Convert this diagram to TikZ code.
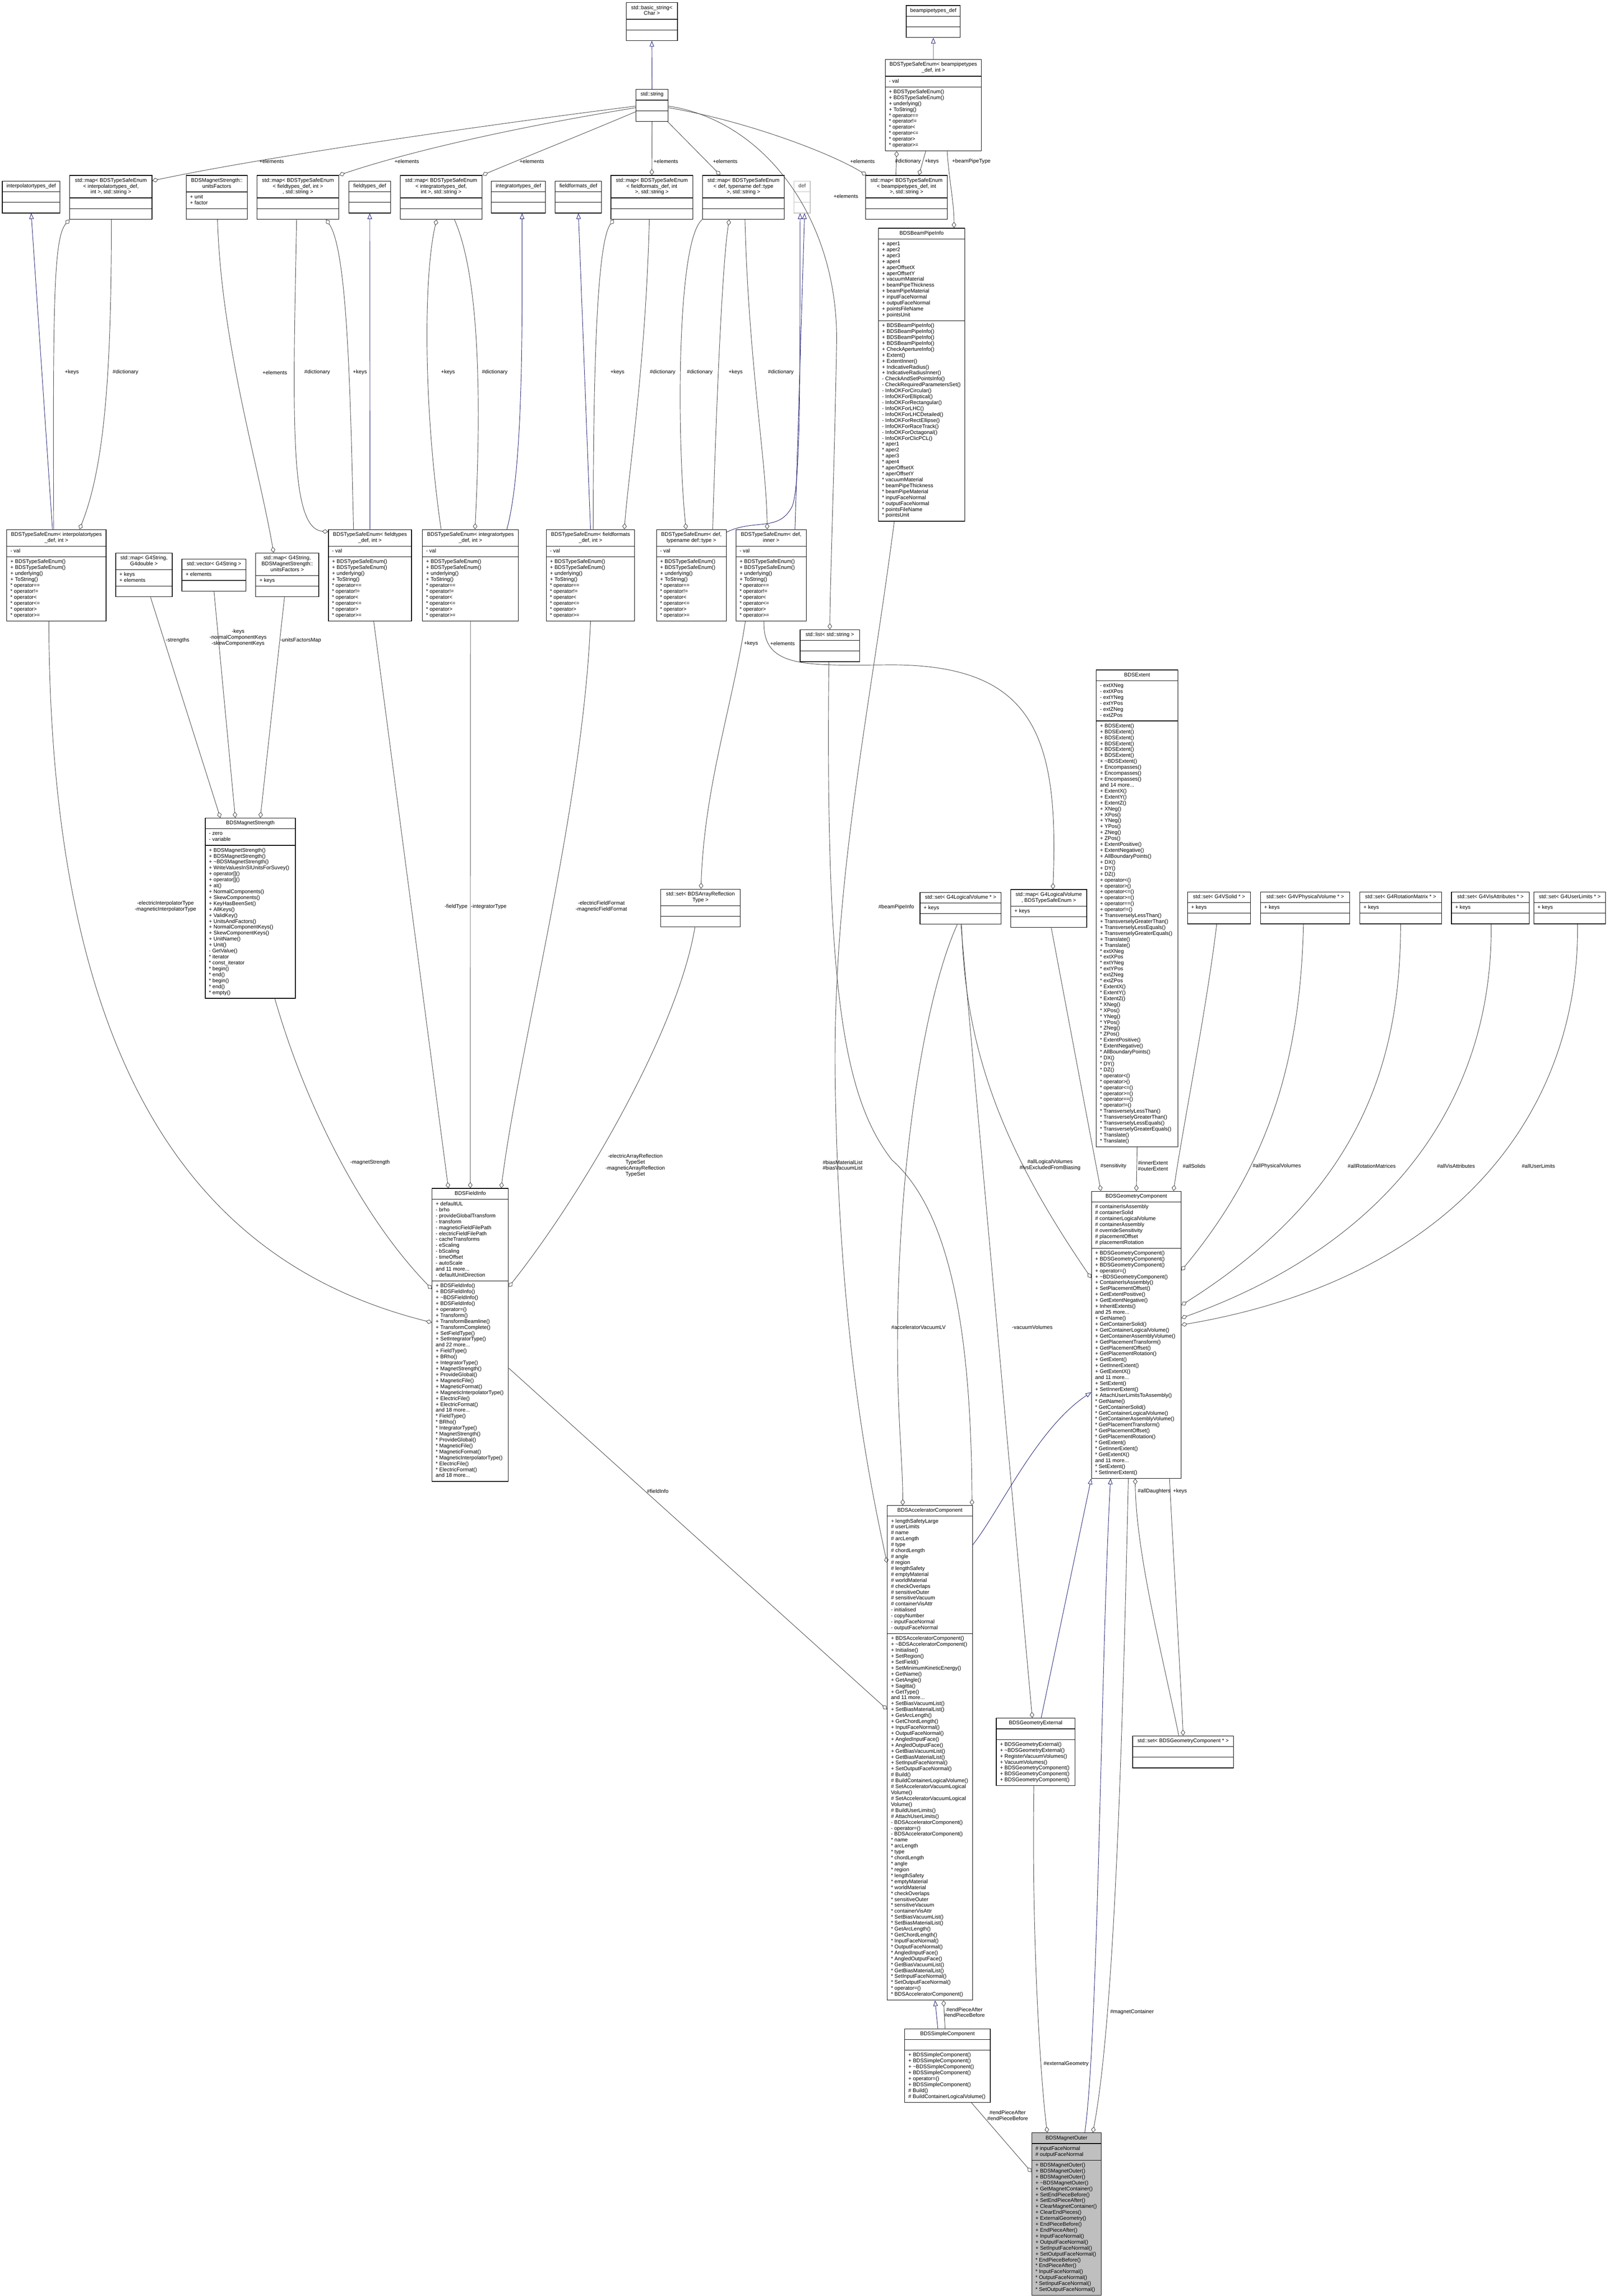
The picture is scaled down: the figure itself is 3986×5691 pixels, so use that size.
\documentclass[tikz,border=0pt]{standalone}
\usepackage{fontspec}
\setmainfont{Liberation Sans}
\usetikzlibrary{shapes.multipart,arrows.meta,calc}
\definecolor{inhcol}{HTML}{191970}
\definecolor{edgecol}{HTML}{404040}
\definecolor{leafgray}{HTML}{BFBFBF}
\newcommand\cf{\fontsize{3.73}{4.18}\selectfont}
\newcommand\cttl[1]{{\cf\begin{tabular}{@{}c@{}}#1\end{tabular}}}
\newcommand\cmbr[1]{{\cf\begin{tabular}{@{}l@{}}#1\end{tabular}}}
\newcommand\blankpart{\cmbr{\hphantom{x}}}
\newcommand\tld{\textasciitilde}
\newcommand\emptyparts{\nodepart{two}\blankpart\nodepart{three}\blankpart}
\newcommand\enumops{+ BDSTypeSafeEnum()\\+ BDSTypeSafeEnum()\\+ underlying()\\+ ToString()\\{}* operator==\\{}* operator!=\\{}* operator<\\{}* operator<=\\{}* operator>\\{}* operator>=}
\tikzset{
  cls/.style={rectangle split, rectangle split parts=3, rectangle split part align={center,left,left},
    draw=black, line width=0.4pt, fill=white, inner xsep=2.6pt, inner ysep=1.47pt,
    anchor=north west, minimum width=#1},
  inh/.style={draw=inhcol, line width=0.3pt, -{Triangle[open,length=0.14cm,width=0.11cm]}},
  agg/.style={draw=edgecol, line width=0.3pt, -{Diamond[open,length=0.15cm,width=0.11cm]}},
  lbl/.style={font=\cf, align=center, inner sep=0pt}
}
\begin{document}
\begin{tikzpicture}[x=0.01cm,y=-0.01cm]
\useasboundingbox (0,0) rectangle (3986,5691);

\node[cls=1.27cm] (bstr) at (1551,6) {\cttl{std::basic\_string<\\Char >}\emptyparts};
\node[cls=0.80cm] (str) at (1575,221) {\cttl{std::string}\emptyparts};
\node[cls=1.34cm] (bptdef) at (2245,13) {\cttl{beampipetypes\_def}\emptyparts};
\node[cls=2.38cm] (bpenum) at (2193,147) {\cttl{BDSTypeSafeEnum< beampipetypes\\\_def, int >}\nodepart{two}\cmbr{- val}\nodepart{three}\cmbr{\enumops}};

\node[cls=1.43cm] (itdef) at (5,448) {\cttl{interpolatortypes\_def}\emptyparts};
\node[cls=2.04cm] (itmap) at (172,434) {\cttl{std::map< BDSTypeSafeEnum\\< interpolatortypes\_def,\\int >, std::string >}\emptyparts};
\node[cls=1.51cm] (uf) at (461,434) {\cttl{BDSMagnetStrength::\\unitsFactors}\nodepart{two}\cmbr{+ unit\\+ factor}\nodepart{three}\blankpart};
\node[cls=2.03cm] (ftmap) at (636,434) {\cttl{std::map< BDSTypeSafeEnum\\< fieldtypes\_def, int >\\, std::string >}\emptyparts};
\node[cls=1.03cm] (ftdef) at (864,448) {\cttl{fieldtypes\_def}\emptyparts};
\node[cls=2.03cm] (igmap) at (991,434) {\cttl{std::map< BDSTypeSafeEnum\\< integratortypes\_def,\\int >, std::string >}\emptyparts};
\node[cls=1.34cm] (igdef) at (1217,448) {\cttl{integratortypes\_def}\emptyparts};
\node[cls=1.15cm] (ffdef) at (1375,448) {\cttl{fieldformats\_def}\emptyparts};
\node[cls=2.03cm] (ffmap) at (1513,434) {\cttl{std::map< BDSTypeSafeEnum\\< fieldformats\_def, int\\>, std::string >}\emptyparts};
\node[cls=2.03cm] (dtmap) at (1740,434) {\cttl{std::map< BDSTypeSafeEnum\\< def, typename def::type\\>, std::string >}\emptyparts};
\node[cls=0.40cm, draw=leafgray, text=edgecol] (defb) at (1967,448) {\cttl{def}\emptyparts};
\node[cls=2.03cm] (bpmap) at (2144,434) {\cttl{std::map< BDSTypeSafeEnum\\< beampipetypes\_def, int\\>, std::string >}\emptyparts};

\node[cls=2.14cm] (bpinfo) at (2176,565) {\cttl{BDSBeamPipeInfo}
  \nodepart{two}\cmbr{+ aper1\\+ aper2\\+ aper3\\+ aper4\\+ aperOffsetX\\+ aperOffsetY\\+ vacuumMaterial\\+ beamPipeThickness\\+ beamPipeMaterial\\+ inputFaceNormal\\+ outputFaceNormal\\+ pointsFileName\\+ pointsUnit}
  \nodepart{three}\cmbr{+ BDSBeamPipeInfo()\\+ BDSBeamPipeInfo()\\+ BDSBeamPipeInfo()\\+ BDSBeamPipeInfo()\\+ CheckApertureInfo()\\+ Extent()\\+ ExtentInner()\\+ IndicativeRadius()\\+ IndicativeRadiusInner()\\- CheckAndSetPointsInfo()\\- CheckRequiredParametersSet()\\- InfoOKForCircular()\\- InfoOKForElliptical()\\- InfoOKForRectangular()\\- InfoOKForLHC()\\- InfoOKForLHCDetailed()\\- InfoOKForRectEllipse()\\- InfoOKForRaceTrack()\\- InfoOKForOctagonal()\\- InfoOKForClicPCL()\\{}* aper1\\{}* aper2\\{}* aper3\\{}* aper4\\{}* aperOffsetX\\{}* aperOffsetY\\{}* vacuumMaterial\\{}* beamPipeThickness\\{}* beamPipeMaterial\\{}* inputFaceNormal\\{}* outputFaceNormal\\{}* pointsFileName\\{}* pointsUnit}};

\node[cls=2.46cm] (ienum) at (16,1312) {\cttl{BDSTypeSafeEnum< interpolatortypes\\\_def, int >}\nodepart{two}\cmbr{- val}\nodepart{three}\cmbr{\enumops}};
\node[cls=1.40cm] (mgd) at (286,1370) {\cttl{std::map< G4String,\\G4double >}\nodepart{two}\cmbr{+ keys\\+ elements}\nodepart{three}\blankpart};
\node[cls=1.59cm] (vg) at (450,1385) {\cttl{std::vector< G4String >}\nodepart{two}\cmbr{+ elements}\nodepart{three}\blankpart};
\node[cls=1.56cm] (mgu) at (633,1370) {\cttl{std::map< G4String,\\BDSMagnetStrength::\\unitsFactors >}\nodepart{two}\cmbr{+ keys}\nodepart{three}\blankpart};
\node[cls=2.06cm] (fenum) at (813,1312) {\cttl{BDSTypeSafeEnum< fieldtypes\\\_def, int >}\nodepart{two}\cmbr{- val}\nodepart{three}\cmbr{\enumops}};
\node[cls=2.38cm] (genum) at (1046,1312) {\cttl{BDSTypeSafeEnum< integratortypes\\\_def, int >}\nodepart{two}\cmbr{- val}\nodepart{three}\cmbr{\enumops}};
\node[cls=2.19cm] (fmenum) at (1353,1312) {\cttl{BDSTypeSafeEnum< fieldformats\\\_def, int >}\nodepart{two}\cmbr{- val}\nodepart{three}\cmbr{\enumops}};
\node[cls=1.73cm] (dtenum) at (1626,1312) {\cttl{BDSTypeSafeEnum< def,\\typename def::type >}\nodepart{two}\cmbr{- val}\nodepart{three}\cmbr{\enumops}};
\node[cls=1.74cm] (dienum) at (1823,1312) {\cttl{BDSTypeSafeEnum< def,\\inner >}\nodepart{two}\cmbr{- val}\nodepart{three}\cmbr{\enumops}};

\node[cls=1.47cm] (lst) at (1982,1560) {\cttl{std::list< std::string >}\emptyparts};

\node[cls=2.02cm] (ext) at (2716,1660) {\cttl{BDSExtent}
  \nodepart{two}\cmbr{- extXNeg\\- extXPos\\- extYNeg\\- extYPos\\- extZNeg\\- extZPos}
  \nodepart{three}\cmbr{+ BDSExtent()\\+ BDSExtent()\\+ BDSExtent()\\+ BDSExtent()\\+ BDSExtent()\\+ BDSExtent()\\+ \tld{}BDSExtent()\\+ Encompasses()\\+ Encompasses()\\+ Encompasses()\\and 14 more...\\+ ExtentX()\\+ ExtentY()\\+ ExtentZ()\\+ XNeg()\\+ XPos()\\+ YNeg()\\+ YPos()\\+ ZNeg()\\+ ZPos()\\+ ExtentPositive()\\+ ExtentNegative()\\+ AllBoundaryPoints()\\+ DX()\\+ DY()\\+ DZ()\\+ operator<()\\+ operator>()\\+ operator<=()\\+ operator>=()\\+ operator==()\\+ operator!=()\\+ TransverselyLessThan()\\+ TransverselyGreaterThan()\\+ TransverselyLessEquals()\\+ TransverselyGreaterEquals()\\+ Translate()\\+ Translate()\\{}* extXNeg\\{}* extXPos\\{}* extYNeg\\{}* extYPos\\{}* extZNeg\\{}* extZPos\\{}* ExtentX()\\{}* ExtentY()\\{}* ExtentZ()\\{}* XNeg()\\{}* XPos()\\{}* YNeg()\\{}* YPos()\\{}* ZNeg()\\{}* ZPos()\\{}* ExtentPositive()\\{}* ExtentNegative()\\{}* AllBoundaryPoints()\\{}* DX()\\{}* DY()\\{}* DZ()\\{}* operator<()\\{}* operator>()\\{}* operator<=()\\{}* operator>=()\\{}* operator==()\\{}* operator!=()\\{}* TransverselyLessThan()\\{}* TransverselyGreaterThan()\\{}* TransverselyLessEquals()\\{}* TransverselyGreaterEquals()\\{}* Translate()\\{}* Translate()}};

\node[cls=2.23cm] (ms) at (508,2027) {\cttl{BDSMagnetStrength}
  \nodepart{two}\cmbr{- zero\\- variable}
  \nodepart{three}\cmbr{+ BDSMagnetStrength()\\+ BDSMagnetStrength()\\+ \tld{}BDSMagnetStrength()\\+ WriteValuesInSIUnitsForSuvey()\\+ operator[]()\\+ operator[]()\\+ at()\\+ NormalComponents()\\+ SkewComponents()\\+ KeyHasBeenSet()\\+ AllKeys()\\+ ValidKey()\\+ UnitsAndFactors()\\+ NormalComponentKeys()\\+ SkewComponentKeys()\\+ UnitName()\\+ Unit()\\- GetValue()\\{}* iterator\\{}* const\_iterator\\{}* begin()\\{}* end()\\{}* begin()\\{}* end()\\{}* empty()}};

\node[cls=1.96cm] (arset) at (1637,2203) {\cttl{std::set< BDSArrayReflection\\Type >}\emptyparts};
\node[cls=2.01cm] (lvset) at (2279,2211) {\cttl{std::set< G4LogicalVolume * >}\nodepart{two}\cmbr{+ keys}\nodepart{three}\blankpart};
\node[cls=1.88cm] (lvmap) at (2504,2204) {\cttl{std::map< G4LogicalVolume\\*, BDSTypeSafeEnum >}\nodepart{two}\cmbr{+ keys}\nodepart{three}\blankpart};
\node[cls=1.56cm] (solset) at (2942,2210) {\cttl{std::set< G4VSolid * >}\nodepart{two}\cmbr{+ keys}\nodepart{three}\blankpart};
\node[cls=2.21cm] (pvset) at (3123,2210) {\cttl{std::set< G4VPhysicalVolume * >}\nodepart{two}\cmbr{+ keys}\nodepart{three}\blankpart};
\node[cls=2.02cm] (rmset) at (3369,2210) {\cttl{std::set< G4RotationMatrix * >}\nodepart{two}\cmbr{+ keys}\nodepart{three}\blankpart};
\node[cls=1.93cm] (vaset) at (3596,2210) {\cttl{std::set< G4VisAttributes * >}\nodepart{two}\cmbr{+ keys}\nodepart{three}\blankpart};
\node[cls=1.78cm] (ulset) at (3800,2210) {\cttl{std::set< G4UserLimits * >}\nodepart{two}\cmbr{+ keys}\nodepart{three}\blankpart};

\node[cls=1.89cm] (fi) at (1070,2945) {\cttl{BDSFieldInfo}
  \nodepart{two}\cmbr{+ defaultUL\\- brho\\- provideGlobalTransform\\- transform\\- magneticFieldFilePath\\- electricFieldFilePath\\- cacheTransforms\\- eScaling\\- bScaling\\- timeOffset\\- autoScale\\and 11 more...\\- defaultUnitDirection}
  \nodepart{three}\cmbr{+ BDSFieldInfo()\\+ BDSFieldInfo()\\+ \tld{}BDSFieldInfo()\\+ BDSFieldInfo()\\+ operator=()\\+ Transform()\\+ TransformBeamline()\\+ TransformComplete()\\+ SetFieldType()\\+ SetIntegratorType()\\and 22 more...\\+ FieldType()\\+ BRho()\\+ IntegratorType()\\+ MagnetStrength()\\+ ProvideGlobal()\\+ MagneticFile()\\+ MagneticFormat()\\+ MagneticInterpolatorType()\\+ ElectricFile()\\+ ElectricFormat()\\and 18 more...\\{}* FieldType()\\{}* BRho()\\{}* IntegratorType()\\{}* MagnetStrength()\\{}* ProvideGlobal()\\{}* MagneticFile()\\{}* MagneticFormat()\\{}* MagneticInterpolatorType()\\{}* ElectricFile()\\{}* ElectricFormat()\\and 18 more...}};

\node[cls=2.22cm] (gc) at (2704,2952) {\cttl{BDSGeometryComponent}
  \nodepart{two}\cmbr{\# containerIsAssembly\\\# containerSolid\\\# containerLogicalVolume\\\# containerAssembly\\\# overrideSensitivity\\\# placementOffset\\\# placementRotation}
  \nodepart{three}\cmbr{+ BDSGeometryComponent()\\+ BDSGeometryComponent()\\+ BDSGeometryComponent()\\+ operator=()\\+ \tld{}BDSGeometryComponent()\\+ ContainerIsAssembly()\\+ SetPlacementOffset()\\+ GetExtentPositive()\\+ GetExtentNegative()\\+ InheritExtents()\\and 25 more...\\+ GetName()\\+ GetContainerSolid()\\+ GetContainerLogicalVolume()\\+ GetContainerAssemblyVolume()\\+ GetPlacementTransform()\\+ GetPlacementOffset()\\+ GetPlacementRotation()\\+ GetExtent()\\+ GetInnerExtent()\\+ GetExtentX()\\and 11 more...\\+ SetExtent()\\+ SetInnerExtent()\\+ AttachUserLimitsToAssembly()\\{}* GetName()\\{}* GetContainerSolid()\\{}* GetContainerLogicalVolume()\\{}* GetContainerAssemblyVolume()\\{}* GetPlacementTransform()\\{}* GetPlacementOffset()\\{}* GetPlacementRotation()\\{}* GetExtent()\\{}* GetInnerExtent()\\{}* GetExtentX()\\and 11 more...\\{}* SetExtent()\\{}* SetInnerExtent()}};

\node[cls=2.11cm] (ac) at (2198,3731) {\cttl{BDSAcceleratorComponent}
  \nodepart{two}\cmbr{+ lengthSafetyLarge\\\# userLimits\\\# name\\\# arcLength\\\# type\\\# chordLength\\\# angle\\\# region\\\# lengthSafety\\\# emptyMaterial\\\# worldMaterial\\\# checkOverlaps\\\# sensitiveOuter\\\# sensitiveVacuum\\\# containerVisAttr\\- initialised\\- copyNumber\\- inputFaceNormal\\- outputFaceNormal}
  \nodepart{three}\cmbr{+ BDSAcceleratorComponent()\\+ \tld{}BDSAcceleratorComponent()\\+ Initialise()\\+ SetRegion()\\+ SetField()\\+ SetMinimumKineticEnergy()\\+ GetName()\\+ GetAngle()\\+ Sagitta()\\+ GetType()\\and 11 more...\\+ SetBiasVacuumList()\\+ SetBiasMaterialList()\\+ GetArcLength()\\+ GetChordLength()\\+ InputFaceNormal()\\+ OutputFaceNormal()\\+ AngledInputFace()\\+ AngledOutputFace()\\+ GetBiasVacuumList()\\+ GetBiasMaterialList()\\+ SetInputFaceNormal()\\+ SetOutputFaceNormal()\\\# Build()\\\# BuildContainerLogicalVolume()\\\# SetAcceleratorVacuumLogical\\Volume()\\\# SetAcceleratorVacuumLogical\\Volume()\\\# BuildUserLimits()\\\# AttachUserLimits()\\- BDSAcceleratorComponent()\\- operator=()\\- BDSAcceleratorComponent()\\{}* name\\{}* arcLength\\{}* type\\{}* chordLength\\{}* angle\\{}* region\\{}* lengthSafety\\{}* emptyMaterial\\{}* worldMaterial\\{}* checkOverlaps\\{}* sensitiveOuter\\{}* sensitiveVacuum\\{}* containerVisAttr\\{}* SetBiasVacuumList()\\{}* SetBiasMaterialList()\\{}* GetArcLength()\\{}* GetChordLength()\\{}* InputFaceNormal()\\{}* OutputFaceNormal()\\{}* AngledInputFace()\\{}* AngledOutputFace()\\{}* GetBiasVacuumList()\\{}* GetBiasMaterialList()\\{}* SetInputFaceNormal()\\{}* SetOutputFaceNormal()\\{}* operator=()\\{}* BDSAcceleratorComponent()}};

\node[cls=1.95cm] (ge) at (2468,4258) {\cttl{BDSGeometryExternal}\nodepart{two}\blankpart
  \nodepart{three}\cmbr{+ BDSGeometryExternal()\\+ \tld{}BDSGeometryExternal()\\+ RegisterVacuumVolumes()\\+ VacuumVolumes()\\+ BDSGeometryComponent()\\+ BDSGeometryComponent()\\+ BDSGeometryComponent()}};
\node[cls=2.50cm] (gcset) at (2806,4302) {\cttl{std::set< BDSGeometryComponent * >}\emptyparts};
\node[cls=2.12cm] (sc) at (2241,5028) {\cttl{BDSSimpleComponent}\nodepart{two}\blankpart
  \nodepart{three}\cmbr{+ BDSSimpleComponent()\\+ BDSSimpleComponent()\\+ \tld{}BDSSimpleComponent()\\+ BDSSimpleComponent()\\+ operator=()\\+ BDSSimpleComponent()\\\# Build()\\\# BuildContainerLogicalVolume()}};
\node[cls=1.72cm, fill=leafgray] (mo) at (2556,5286) {\cttl{BDSMagnetOuter}
  \nodepart{two}\cmbr{\# inputFaceNormal\\\# outputFaceNormal}
  \nodepart{three}\cmbr{+ BDSMagnetOuter()\\+ BDSMagnetOuter()\\+ BDSMagnetOuter()\\+ \tld{}BDSMagnetOuter()\\+ GetMagnetContainer()\\+ SetEndPieceBefore()\\+ SetEndPieceAfter()\\+ ClearMagnetContainer()\\+ ClearEndPieces()\\+ ExternalGeometry()\\+ EndPieceBefore()\\+ EndPieceAfter()\\+ InputFaceNormal()\\+ OutputFaceNormal()\\+ SetInputFaceNormal()\\+ SetOutputFaceNormal()\\{}* EndPieceBefore()\\{}* EndPieceAfter()\\{}* InputFaceNormal()\\{}* OutputFaceNormal()\\{}* SetInputFaceNormal()\\{}* SetOutputFaceNormal()}};

\draw[inh] (str.north) -- (bstr.south);
\draw[inh] (bpenum.north) -- (bptdef.south);
\draw[inh] ($(ienum.north west)+(114,0)$) -- (itdef.south);
\draw[inh] (fenum.north) -- (ftdef.south);
\draw[inh] ($(genum.north west)+(210,0)$) .. controls (1300,1150) and (1293,750) .. ($(igdef.south)+(9,0)$);
\draw[inh] (fmenum.north) -- (ffdef.south);
\draw[inh] ($(dtenum.north east)+(0,7)$) .. controls (1870,1285) and (1930,1320) .. (1963,1255) .. controls (1985,1200) and (1982,900) .. ($(defb.south)+(-5,0)$);
\draw[inh] ($(dienum.north west)+(147,0)$) -- ($(defb.south)+(6,0)$);
\draw[inh] ($(ac.north east)+(0,98)$) .. controls (2480,3740) and (2570,3540) .. ($(gc.north west)+(0,499)$);
\draw[inh] ($(ge.north west)+(112,0)$) -- (gc.south west);
\draw[inh] ($(mo.north west)+(132,0)$) .. controls (2722,5050) and (2728,4100) .. ($(gc.south west)+(48,0)$);
\draw[inh] ($(sc.north west)+(83,0)$) -- ($(ac.south west)+(119,0)$);

\draw[agg] ($(str.north west)+(0,42)$) .. controls (1200,310) and (650,390) .. ($(itmap.north east)+(0,14)$);
\draw[agg] ($(str.north west)+(0,46)$) .. controls (1250,320) and (1000,380) .. (ftmap.north east);
\draw[agg] ($(str.north west)+(0,56)$) .. controls (1450,330) and (1300,390) .. (igmap.north east);
\draw[agg] (str.south) -- (ffmap.north);
\draw[agg] ($(str.south east)+(-2,0)$) -- ($(dtmap.north west)+(45,0)$);
\draw[agg] ($(str.north east)+(0,42)$) .. controls (1900,300) and (2078,550) .. (2073,850) .. controls (2068,1150) and (2058,1400) .. (lst.north);
\draw[agg] ($(str.north east)+(0,46)$) .. controls (1850,300) and (2060,380) .. ($(bpmap.north west)+(3,0)$);
\draw[agg] ($(bpmap.north west)+(76,0)$) -- ($(bpenum.south west)+(29,0)$);
\draw[agg] ($(bpenum.south west)+(101,0)$) -- ($(bpmap.north west)+(133,0)$);
\draw[agg] ($(bpenum.south west)+(154,0)$) .. controls (2352,450) and (2364,500) .. ($(bpinfo.north west)+(188,0)$);
\draw[agg] ($(ienum.north west)+(117,0)$) .. controls (131,750) and (133,590) .. (itmap.south west);
\draw[agg] ($(itmap.south west)+(104,0)$) .. controls (276,900) and (262,1150) .. ($(ienum.north west)+(181,0)$);
\draw[agg] ($(uf.south west)+(78,0)$) .. controls (548,850) and (640,1150) .. ($(mgu.north west)+(45,0)$);
\draw[agg] ($(ftmap.south west)+(99,0)$) .. controls (725,1050) and (718,1310) .. ($(fenum.north west)+(0,6)$);
\draw[agg] ($(fenum.north west)+(63,0)$) .. controls (868,950) and (860,620) .. ($(ftmap.south west)+(172,0)$);
\draw[agg] ($(genum.north west)+(47,0)$) .. controls (1048,1000) and (1050,680) .. ($(igmap.south west)+(91,0)$);
\draw[agg] ($(igmap.south west)+(135,0)$) .. controls (1195,700) and (1190,1050) .. ($(genum.north west)+(131,0)$);
\draw[agg] ($(fmenum.north west)+(117,0)$) .. controls (1470,900) and (1480,600) .. ($(ffmap.south west)+(8,0)$);
\draw[agg] ($(ffmap.south west)+(96,0)$) .. controls (1600,900) and (1560,1150) .. ($(fmenum.north west)+(194,0)$);
\draw[agg] (dtmap.south west) .. controls (1675,600) and (1678,1100) .. ($(dtenum.north west)+(74,0)$);
\draw[agg] ($(dtenum.north west)+(140,0)$) .. controls (1775,1000) and (1790,650) .. ($(dtmap.south west)+(67,0)$);
\draw[agg] ($(dtmap.south west)+(106,0)$) .. controls (1855,900) and (1900,1150) .. ($(dienum.north west)+(78,0)$);
\draw[agg] ($(dienum.south west)+(24,0)$) .. controls (1815,1750) and (1745,1950) .. ($(arset.north west)+(100,0)$);
\draw[agg] ($(dienum.south west)+(70,0)$) .. controls (1890,1655) and (1990,1650) .. (2200,1648) .. controls (2560,1645) and (2625,1820) .. ($(lvmap.north west)+(105,0)$);
\draw[agg] ($(lst.south west)+(72,0)$) .. controls (2045,2450) and (2090,2720) .. (2210,2875) .. controls (2340,2990) and (2407,3250) .. ($(ac.north east)+(-2,0)$);
\draw[agg] ($(bpinfo.south west)+(40,0)$) .. controls (2150,1800) and (2060,2200) .. (2070,2700) .. controls (2080,3300) and (2150,3650) .. ($(ac.north west)+(0,143)$);
\draw[agg] ($(lvset.south west)+(93,0)$) .. controls (2300,2450) and (2238,2800) .. (2226,3200) .. controls (2218,3480) and (2237,3600) .. ($(ac.north west)+(39,0)$);
\draw[agg] ($(lvset.south west)+(102,0)$) -- ($(ge.north west)+(90,0)$);
\draw[agg] ($(lvset.south west)+(104,0)$) .. controls (2390,2620) and (2500,2870) .. ($(gc.north west)+(0,216)$);
\draw[agg] ($(lvmap.south west)+(101,0)$) -- ($(gc.north west)+(24,0)$);
\draw[agg] (ext.south) -- (gc.north);
\draw[agg] ($(solset.south west)+(73,0)$) .. controls (2990,2500) and (2930,2800) .. ($(gc.north west)+(204,0)$);
\draw[agg] ($(pvset.south west)+(107,0)$) .. controls (3222,2620) and (3150,2880) .. ($(gc.north east)+(0,197)$);
\draw[agg] (rmset.south) .. controls (3470,2620) and (3380,2950) .. ($(gc.north east)+(0,283)$);
\draw[agg] ($(vaset.south west)+(99,0)$) .. controls (3700,2720) and (3450,3080) .. ($(gc.north east)+(0,315)$);
\draw[agg] ($(ulset.south west)+(109,0)$) .. controls (3915,2760) and (3600,3170) .. ($(gc.north east)+(0,332)$);
\draw[agg] ($(gc.south west)+(194,0)$) .. controls (2910,3900) and (2925,4150) .. (gcset.north);
\draw[agg] ($(gcset.north west)+(115,0)$) .. controls (2880,4100) and (2815,3850) .. ($(gc.south west)+(109,0)$);
\draw[agg] ($(gc.south west)+(92,0)$) .. controls (2782,4300) and (2762,5000) .. ($(mo.north west)+(152,0)$);
\draw[agg] ($(ge.south west)+(94,0)$) .. controls (2556,4800) and (2578,5150) .. ($(mo.north west)+(39,0)$);
\draw[agg] ($(sc.north west)+(101,0)$) -- ($(ac.south west)+(140,0)$);
\draw[agg] ($(sc.south west)+(166,0)$) -- ($(mo.north west)+(0,98)$);
\draw[agg] ($(fenum.south west)+(113,0)$) -- ($(fi.north west)+(41,0)$);
\draw[agg] (genum.south) -- (fi.north);
\draw[agg] (fmenum.south) .. controls (1445,2000) and (1285,2600) .. ($(fi.north west)+(172,0)$);
\draw[agg] ($(ms.south west)+(173,0)$) .. controls (760,2750) and (900,3020) .. ($(fi.north west)+(0,250)$);
\draw[agg] ($(ienum.south west)+(105,0)$) .. controls (125,2750) and (560,3150) .. ($(fi.north west)+(0,333)$);
\draw[agg] ($(arset.south west)+(85,0)$) .. controls (1680,2550) and (1450,2950) .. ($(fi.north east)+(0,245)$);
\draw[agg] ($(fi.north east)+(0,446)$) -- ($(ac.north west)+(0,506)$);
\draw[agg] ($(mgd.south west)+(87,0)$) -- ($(ms.north west)+(38,0)$);
\draw[agg] (vg.south) -- ($(ms.north west)+(75,0)$);
\draw[agg] ($(mgu.south west)+(72,0)$) -- ($(ms.north west)+(137,0)$);

\node[lbl] (l01) at (673,400) {+elements};
\node[lbl] (l02) at (1008,400) {+elements};
\node[lbl] (l03) at (1318,400) {+elements};
\node[lbl] (l04) at (1650,400) {+elements};
\node[lbl] (l05) at (1797,400) {+elements};
\node[lbl] (l06) at (2137,400) {+elements};
\node[lbl] (l07) at (2096,486) {+elements};
\node[lbl] (l08) at (2250,400) {\#dictionary};
\node[lbl] (l09) at (2309,400) {+keys};
\node[lbl] (l10) at (2407,400) {+beamPipeType};
\node[lbl] (l11) at (178,923) {+keys};
\node[lbl] (l12) at (311,923) {\#dictionary};
\node[lbl] (l13) at (681,923) {+elements};
\node[lbl] (l14) at (786,923) {\#dictionary};
\node[lbl] (l15) at (892,923) {+keys};
\node[lbl] (l16) at (1110,923) {+keys};
\node[lbl] (l17) at (1226,923) {\#dictionary};
\node[lbl] (l18) at (1530,923) {+keys};
\node[lbl] (l19) at (1642,923) {\#dictionary};
\node[lbl] (l20) at (1734,923) {\#dictionary};
\node[lbl] (l21) at (1823,923) {+keys};
\node[lbl] (l22) at (1935,923) {\#dictionary};
\node[lbl] (l23) at (1861,1595) {+keys};
\node[lbl] (l24) at (1939,1595) {+elements};
\node[lbl] (l25) at (440,1587) {-strengths};
\node[lbl] (l26) at (590,1580) {-keys\\-normalComponentKeys\\-skewComponentKeys};
\node[lbl] (l27) at (745,1587) {-unitsFactorsMap};
\node[lbl] (l28) at (410,2247) {-electricInterpolatorType\\-magneticInterpolatorType};
\node[lbl] (l29) at (1130,2247) {-fieldType};
\node[lbl] (l30) at (1211,2247) {-integratorType};
\node[lbl] (l31) at (1490,2247) {-electricFieldFormat\\-magneticFieldFormat};
\node[lbl] (l32) at (2221,2248) {\#beamPipeInfo};
\node[lbl] (l33) at (917,2881) {-magnetStrength};
\node[lbl] (l34) at (1574,2889) {-electricArrayReflection\\TypeSet\\-magneticArrayReflection\\TypeSet};
\node[lbl] (l35) at (2088,2888) {\#biasMaterialList\\\#biasVacuumList};
\node[lbl] (l36) at (2602,2888) {\#allLogicalVolumes\\\#lvsExcludedFromBiasing};
\node[lbl] (l37) at (2759,2890) {\#sensitivity};
\node[lbl] (l38) at (2857,2890) {\#innerExtent\\\#outerExtent};
\node[lbl] (l39) at (2959,2890) {\#allSolids};
\node[lbl] (l40) at (3164,2890) {\#allPhysicalVolumes};
\node[lbl] (l41) at (3399,2890) {\#allRotationMatrices};
\node[lbl] (l42) at (3608,2890) {\#allVisAttributes};
\node[lbl] (l43) at (3812,2890) {\#allUserLimits};
\node[lbl] (l44) at (2276,3290) {\#acceleratorVacuumLV};
\node[lbl] (l45) at (2558,3290) {-vacuumVolumes};
\node[lbl] (l46) at (1630,3696) {\#fieldInfo};
\node[lbl] (l47) at (2860,3696) {\#allDaughters};
\node[lbl] (l48) at (2924,3696) {+keys};
\node[lbl] (l49) at (2390,4988) {\#endPieceAfter\\\#endPieceBefore};
\node[lbl] (l50) at (2805,4987) {\#magnetContainer};
\node[lbl] (l51) at (2642,5116) {\#externalGeometry};
\node[lbl] (l52) at (2497,5244) {\#endPieceAfter\\\#endPieceBefore};
\end{tikzpicture}
\end{document}
